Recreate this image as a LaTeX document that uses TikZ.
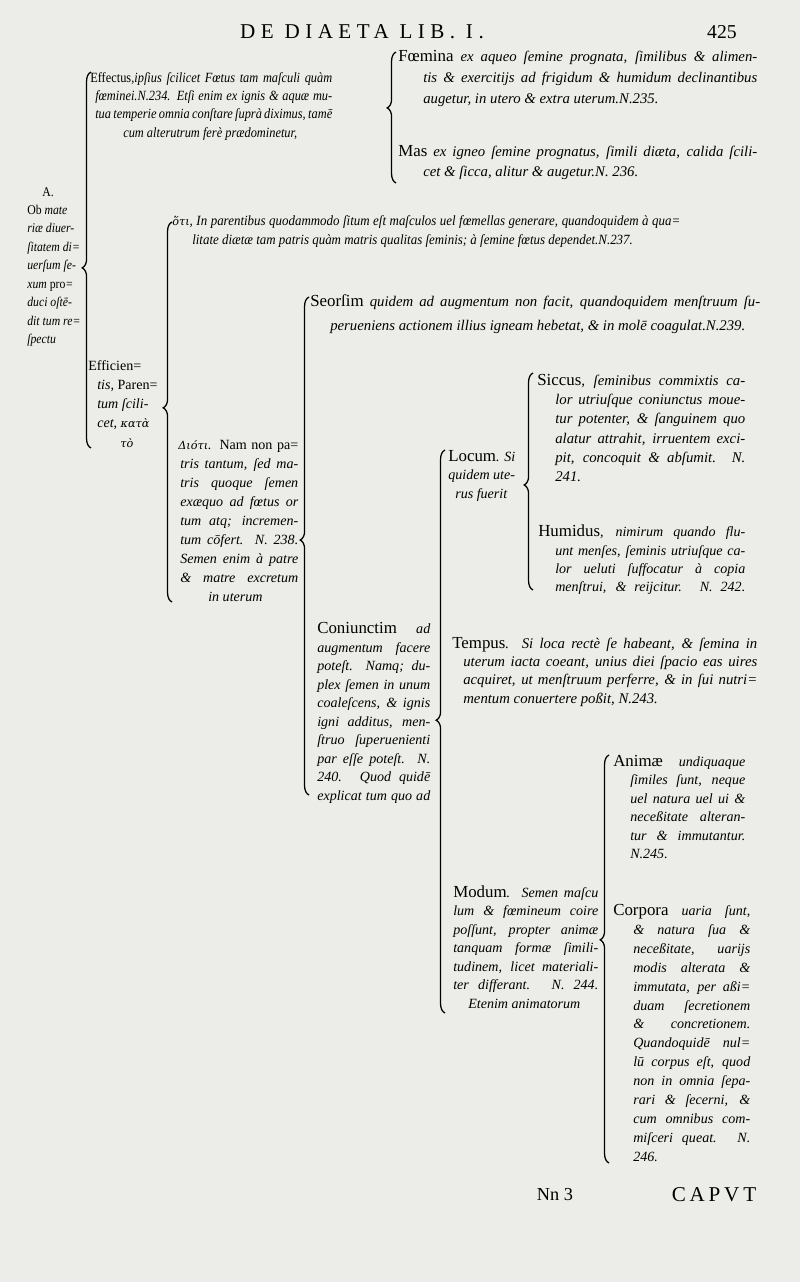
\documentclass[tikz,border=0pt]{standalone}
\usepackage{fontspec}
\setmainfont{Liberation Serif}
\newfontfamily\greekfont{DejaVu Serif}
\usetikzlibrary{decorations.pathreplacing}
\newlength\pxu
\setlength\pxu{0.025cm}
\newlength\lw
\newcommand\ind[1]{\hspace*{#1\pxu}}
\newcommand\jl[2][0]{\hspace*{#1\pxu}\hbox to \dimexpr\lw-#1\pxu\relax{#2}}
\newcommand\hw[1]{{\fontsize{12}{12}\selectfont\upshape #1}}
\newcommand\gr[1]{{\greekfont\fontsize{8}{8}\selectfont #1}}
\definecolor{paper}{RGB}{236,236,233}

\begin{document}
\begin{tikzpicture}[x=0.025cm, y=-0.025cm]
  \tikzstyle{txt} = [anchor=north west, inner sep=0pt, align=left, font=\fontsize{10}{13.2}\selectfont\itshape]
  \tikzstyle{jw} = [execute at begin node={\global\lw=#1\pxu}]
  \tikzstyle{brc} = [decorate, decoration={brace, amplitude=2.2mm, aspect=#1}, line width=0.9pt]
  \tikzstyle{caps} = [inner sep=0pt, font=\fontsize{15}{15}\selectfont\addfontfeatures{LetterSpace=26}]
  \fill[paper] (0,0) rectangle (800,1282);
  \useasboundingbox (0,0) rectangle (800,1282);

  \node[caps] (head) at (362,32) {DE DIAETA LIB. I.};
  \node[caps, font=\fontsize{14}{14}\selectfont] (folio) at (722,32) {425};

  \node[txt, font=\fontsize{9.5}{13.1}\selectfont\itshape\addfontfeatures{FakeStretch=0.88}] (ob) at (27,187)
    {\ind{15}\textup{A.}\\ \textup{Ob} mate\\ riæ diuer-\\ ſitatem di=\\ uerſum ſe-\\ xum \textup{pro}=\\ duci oſtē-\\ dit tum re=\\ ſpectu};

  \node[txt, jw=242, font=\fontsize{10}{13}\selectfont\itshape\addfontfeatures{FakeStretch=0.88}] (effectus) at (90,72)
    {\jl{\textup{Effectus},ipſius ſcilicet Fœtus tam maſculi quàm}\\
     \jl[5]{fœminei.N.234. Etſi enim ex ignis \& aquæ mu-}\\
     \jl[5]{tua temperie omnia conſtare ſuprà diximus, tamē}\\
     \ind{33}cum alterutrum ferè prædominetur,};
  \node[txt, jw=359, font=\fontsize{10.5}{14.9}\selectfont\itshape] (foemina) at (398,50)
    {\jl{\hw{Fœmina} ex aqueo ſemine prognata, ſimilibus \& alimen-}\\
     \jl[25]{tis \& exercitijs ad frigidum \& humidum declinantibus}\\
     \ind{25}augetur, in utero \& extra uterum.N.235.};
  \node[txt, jw=359, font=\fontsize{10.5}{14.2}\selectfont\itshape] (mas) at (398,145)
    {\jl{\hw{Mas} ex igneo ſemine prognatus, ſimili diæta, calida ſcili-}\\
     \ind{25}cet \& ſicca, alitur \& augetur.N. 236.};

  \node[txt, font=\fontsize{10}{13.7}\selectfont\itshape] (efficiens) at (88,360)
    {\textup{Efficien=}\\ \ind{9}tis, \textup{Paren=}\\ \ind{9}tum ſcili-\\ \ind{9}cet, \gr{κατὰ}\\ \ind{32}\gr{τὸ}};
  \node[txt, jw=508, font=\fontsize{10}{13.5}\selectfont\itshape\addfontfeatures{FakeStretch=0.92}] (hoti) at (172,215)
    {\jl{\gr{ὅτι}, In parentibus quodammodo ſitum eſt maſculos uel fœmellas generare, quandoquidem à qua=}\\
     \ind{20}litate diætæ tam patris quàm matris qualitas ſeminis; à ſemine fœtus dependet.N.237.};
  \node[txt, jw=120, font=\fontsize{10}{13.5}\selectfont\itshape] (dioti) at (178,440)
    {\jl{\gr{Διότι}. \textup{Nam non pa=}}\\ \jl[2]{tris tantum, ſed ma-}\\ \jl[2]{tris quoque ſemen}\\
     \jl[2]{exæquo ad fœtus or}\\ \jl[2]{tum atq; incremen-}\\ \jl[2]{tum cōfert. N. 238.}\\
     \jl[2]{Semen enim à patre}\\ \jl[2]{\& matre excretum}\\ \ind{30}in uterum};

  \node[txt, jw=450, font=\fontsize{10.5}{17.1}\selectfont\itshape] (seorsim) at (310,294)
    {\jl{\hw{Seorſim} quidem ad augmentum non facit, quandoquidem menſtruum ſu-}\\
     \ind{20}perueniens actionem illius igneam hebetat, \& in molē coagulat.N.239.};
  \node[txt, jw=113] (coniunctim) at (317,622)
    {\jl{\hw{Coniunctim} ad}\\ \jl{augmentum facere}\\ \jl{poteſt. Namq; du-}\\ \jl{plex ſemen in unum}\\
     \jl{coaleſcens, \& ignis}\\ \jl{igni additus, men-}\\ \jl{ſtruo ſuperuenienti}\\ \jl{par eſſe poteſt. N.}\\
     \jl{240. Quod quidē}\\ \jl{explicat tum quo ad}};

  \node[txt] (locum) at (448,450)
    {\hw{Locum}. Si\\ quidem ute-\\ \ind{7}rus fuerit};
  \node[txt, jw=208, font=\fontsize{10.5}{13.7}\selectfont\itshape] (siccus) at (537,374)
    {\jl{\hw{Siccus}, ſeminibus commixtis ca-}\\ \jl[18]{lor utriuſque coniunctus moue-}\\
     \jl[18]{tur potenter, \& ſanguinem quo}\\ \jl[18]{alatur attrahit, irruentem exci-}\\
     \jl[18]{pit, concoquit \& abſumit. N.}\\ \ind{18}241.};
  \node[txt, jw=207, font=\fontsize{10}{13}\selectfont\itshape] (humidus) at (538,525)
    {\jl{\hw{Humidus}, nimirum quando flu-}\\ \jl[17]{unt menſes, ſeminis utriuſque ca-}\\
     \jl[17]{lor ueluti ſuffocatur à copia}\\ \jl[17]{menſtrui, \& reijcitur. N. 242.}};
  \node[txt, jw=305, font=\fontsize{10.5}{13}\selectfont\itshape] (tempus) at (452,637)
    {\jl{\hw{Tempus}. Si loca rectè ſe habeant, \& ſemina in}\\
     \jl[11]{uterum iacta coeant, unius diei ſpacio eas uires}\\
     \jl[11]{acquiret, ut menſtruum perferre, \& in ſui nutri=}\\
     \ind{11}mentum conuertere poßit, N.243.};
  \node[txt, jw=145] (modum) at (453,885)
    {\jl{\hw{Modum}. Semen maſcu}\\ \jl{lum \& fœmineum coire}\\ \jl{poſſunt, propter animæ}\\
     \jl{tanquam formæ ſimili-}\\ \jl{tudinem, licet materiali-}\\ \jl{ter differant. N. 244.}\\
     \ind{15}Etenim animatorum};

  \node[txt, jw=132, font=\fontsize{10}{13.1}\selectfont\itshape] (animae) at (613,755)
    {\jl{\hw{Animæ} undiquaque}\\ \jl[17]{ſimiles ſunt, neque}\\ \jl[17]{uel natura uel ui \&}\\
     \jl[17]{neceßitate alteran-}\\ \jl[17]{tur \& immutantur.}\\ \ind{17}N.245.};
  \node[txt, jw=137, font=\fontsize{10}{13.45}\selectfont\itshape] (corpora) at (613,904)
    {\jl{\hw{Corpora} uaria ſunt,}\\ \jl[20]{\& natura ſua \&}\\ \jl[20]{neceßitate, uarijs}\\
     \jl[20]{modis alterata \&}\\ \jl[20]{immutata, per aßi=}\\ \jl[20]{duam ſecretionem}\\
     \jl[20]{\& concretionem.}\\ \jl[20]{Quandoquidē nul=}\\ \jl[20]{lū corpus eſt, quod}\\
     \jl[20]{non in omnia ſepa-}\\ \jl[20]{rari \& ſecerni, \&}\\ \jl[20]{cum omnibus com-}\\
     \jl[20]{miſceri queat. N.}\\ \ind{20}246.};

  \node[caps, font=\fontsize{13}{13}\selectfont] (sig) at (555,1195) {Nn 3};
  \node[caps, font=\fontsize{15}{15}\selectfont\addfontfeatures{LetterSpace=18}] (catch) at (714,1195) {CAPVT};

  \coordinate (ob-lo) at (91,448);   \coordinate (ob-hi) at (91,72);
  \coordinate (sx-lo) at (396,183);  \coordinate (sx-hi) at (396,52);
  \coordinate (ef-lo) at (172,602);  \coordinate (ef-hi) at (172,222);
  \coordinate (di-lo) at (309,795);  \coordinate (di-hi) at (309,297);
  \coordinate (co-lo) at (445,1013); \coordinate (co-hi) at (445,450);
  \coordinate (lo-lo) at (533,590);  \coordinate (lo-hi) at (533,373);
  \coordinate (mo-lo) at (609,1163); \coordinate (mo-hi) at (609,755);

  \draw[brc=0.479] (ob-lo) -- (ob-hi);
  \draw[brc=0.573] (sx-lo) -- (sx-hi);
  \draw[brc=0.511] (ef-lo) -- (ef-hi);
  \draw[brc=0.512] (di-lo) -- (di-hi);
  \draw[brc=0.520] (co-lo) -- (co-hi);
  \draw[brc=0.484] (lo-lo) -- (lo-hi);
  \draw[brc=0.547] (mo-lo) -- (mo-hi);
\end{tikzpicture}
\end{document}
